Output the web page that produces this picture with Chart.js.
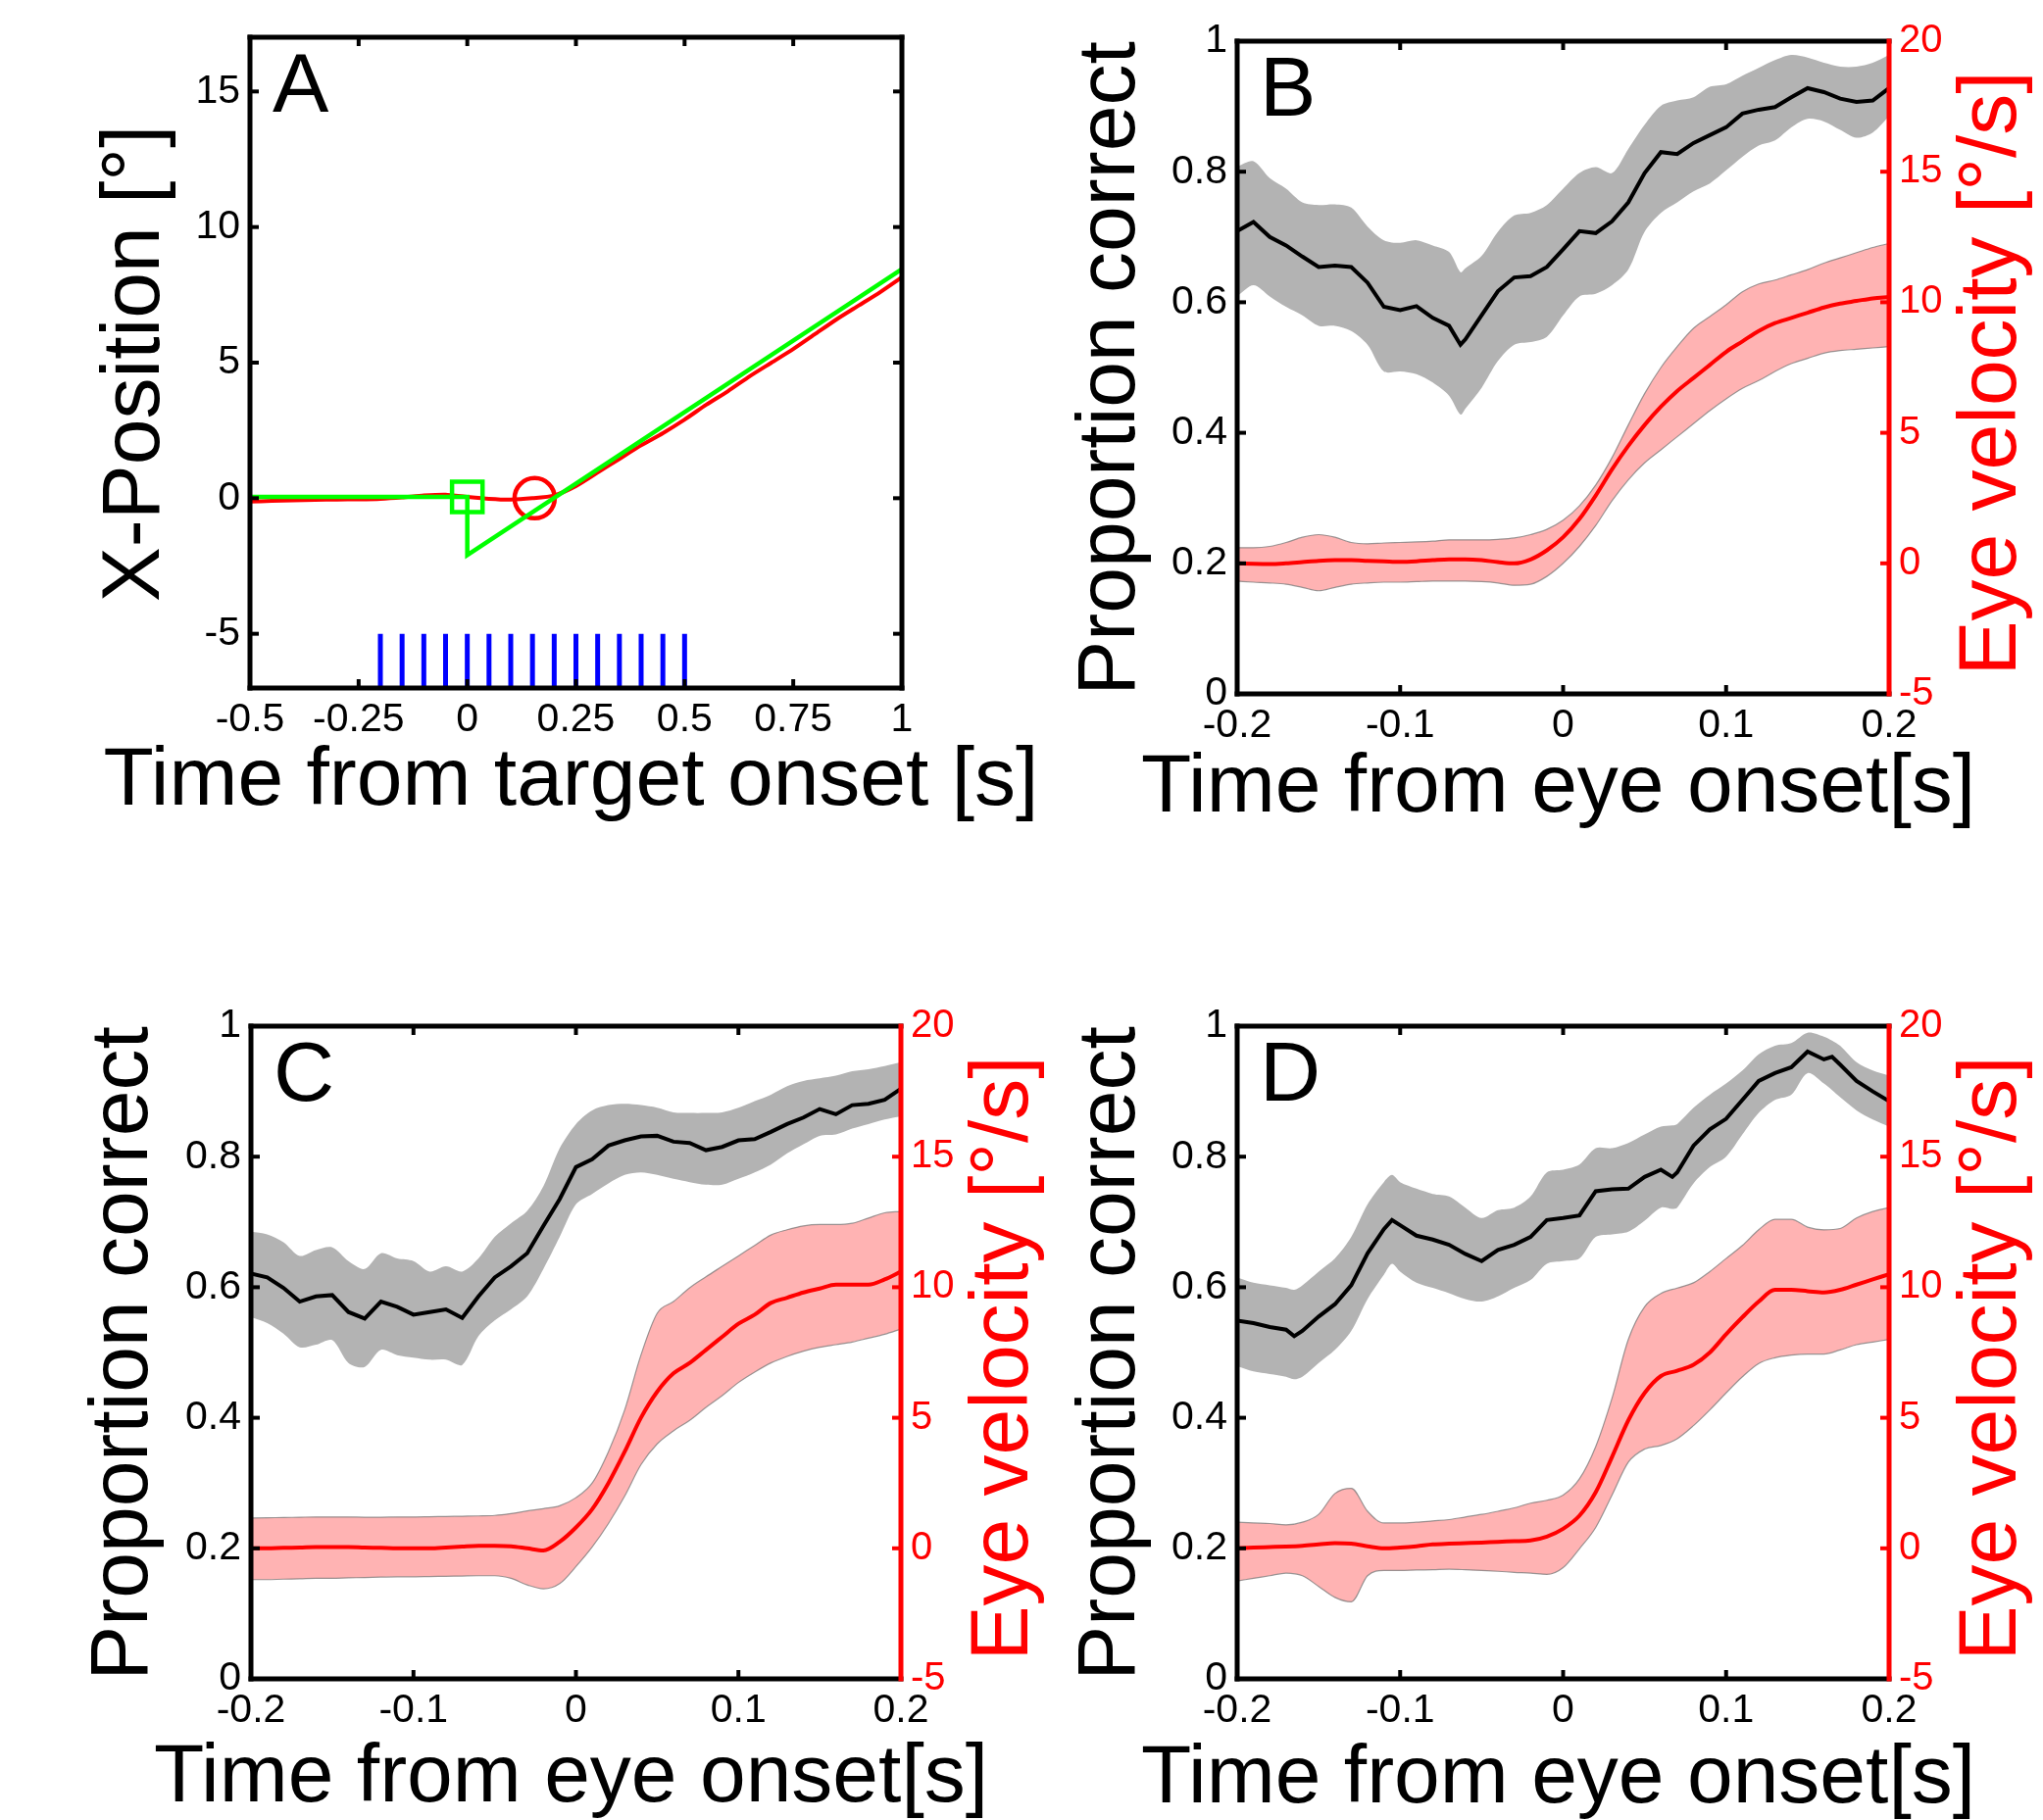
<!DOCTYPE html>
<html>
<head>
<meta charset="utf-8">
<script src="https://cdn.jsdelivr.net/npm/chart.js@4.4.1/dist/chart.umd.min.js"></script>
<style>
html,body{margin:0;padding:0;background:#fff;}
#wrap{position:relative;width:2084px;height:1857px;overflow:hidden;background:#fff;}
#wrap canvas{position:absolute;left:0;top:0;}
</style>
</head>
<body>
<div id="wrap">
<canvas id="cA" width="2084" height="1857"></canvas>
<canvas id="cB" width="2084" height="1857"></canvas>
<canvas id="cC" width="2084" height="1857"></canvas>
<canvas id="cD" width="2084" height="1857"></canvas>
</div>
<script>
// ---------------- DATA ----------------
// Panel A: position traces
const posT      = [-0.5,-0.45,-0.4,-0.35,-0.3,-0.25,-0.2,-0.15,-0.1,-0.05,0,0.05,0.1,0.15,0.2,0.25,0.3,0.35,0.4,0.45,0.5,0.55,0.6,0.65,0.7,0.75,0.8,0.85,0.9,0.95,1.0];
const eyePos    = [-0.12,-0.1,-0.08,-0.06,-0.05,-0.04,-0.02,0.03,0.1,0.13,0.05,-0.02,-0.05,0.0,0.1,0.45,0.95,1.45,1.95,2.4,2.9,3.45,3.95,4.5,5.0,5.5,6.05,6.6,7.1,7.6,8.15];
const targetT   = [-0.5,0,0,1.0];
const targetPos = [0.05,0.05,-2.1,8.45];
const targetOnset = {t:0, v:0.05};
const eyeOnset    = {t:0.155, v:0};
const stimT     = [-0.2,-0.15,-0.1,-0.05,0,0.05,0.1,0.15,0.2,0.25,0.3,0.35,0.4,0.45,0.5];
const stimRange = [-7,-5];
const aXTicks   = [-0.5,-0.25,0,0.25,0.5,0.75,1];
const aXLabels  = ['-0.5','-0.25','0','0.25','0.5','0.75','1'];
const aYTicks   = [-5,0,5,10,15];
const aYLabels  = ['-5','0','5','10','15'];

// Panels B-D: common tick labels
const eXTicks  = [-0.2,-0.1,0,0.1,0.2];
const eXLabels = ['-0.2','-0.1','0','0.1','0.2'];
const pTicks   = [0,0.2,0.4,0.6,0.8,1];
const pLabels  = ['0','0.2','0.4','0.6','0.8','1'];
const vTicks   = [-5,0,5,10,15,20];
const vLabels  = ['-5','0','5','10','15','20'];

// time grid of eye velocity traces
const eyeT = [-0.2,-0.19,-0.18,-0.17,-0.16,-0.15,-0.14,-0.13,-0.12,-0.11,-0.1,-0.09,-0.08,-0.07,-0.06,-0.05,-0.04,-0.03,-0.02,-0.01,0,0.01,0.02,0.03,0.04,0.05,0.06,0.07,0.08,0.09,0.1,0.11,0.12,0.13,0.14,0.15,0.16,0.17,0.18,0.19,0.2];

// Panel B
const bT    = [-0.2,-0.19,-0.18,-0.17,-0.16,-0.15,-0.14,-0.13,-0.12,-0.11,-0.1,-0.09,-0.08,-0.07,-0.063,-0.06,-0.05,-0.04,-0.03,-0.02,-0.01,0,0.01,0.02,0.03,0.04,0.05,0.06,0.07,0.08,0.09,0.1,0.11,0.12,0.13,0.14,0.15,0.16,0.17,0.18,0.19,0.2];
const bPc   = [0.709,0.723,0.70,0.687,0.67,0.654,0.656,0.654,0.63,0.593,0.588,0.594,0.576,0.564,0.535,0.543,0.58,0.617,0.638,0.64,0.654,0.681,0.709,0.706,0.724,0.753,0.798,0.83,0.827,0.844,0.856,0.868,0.889,0.895,0.899,0.914,0.928,0.922,0.912,0.907,0.909,0.928];
const bPcHi = [0.808,0.816,0.79,0.774,0.753,0.749,0.75,0.745,0.716,0.695,0.691,0.695,0.687,0.677,0.646,0.652,0.671,0.708,0.733,0.737,0.749,0.774,0.798,0.807,0.798,0.835,0.872,0.901,0.909,0.914,0.93,0.934,0.947,0.959,0.971,0.979,0.975,0.967,0.961,0.961,0.967,0.979];
const bPcLo = [0.609,0.626,0.609,0.593,0.58,0.564,0.564,0.556,0.535,0.494,0.494,0.49,0.477,0.457,0.428,0.437,0.469,0.51,0.535,0.539,0.547,0.58,0.609,0.613,0.626,0.65,0.708,0.737,0.753,0.77,0.782,0.802,0.823,0.84,0.848,0.868,0.881,0.877,0.864,0.852,0.86,0.885];
const bVel   = [0,-0.02,-0.03,0,0.05,0.1,0.12,0.12,0.1,0.08,0.06,0.08,0.12,0.15,0.15,0.12,0.05,0,0.15,0.5,1.0,1.7,2.6,3.6,4.5,5.3,6.0,6.6,7.1,7.6,8.1,8.5,8.9,9.2,9.4,9.6,9.8,9.95,10.05,10.15,10.2];
const bVelHi = [0.6,0.6,0.65,0.8,1.0,1.1,1.0,0.8,0.75,0.78,0.8,0.82,0.85,0.9,0.9,0.9,0.92,0.97,1.1,1.3,1.65,2.2,3.0,4.05,5.3,6.5,7.5,8.3,9.0,9.45,9.9,10.4,10.7,10.85,11.05,11.25,11.5,11.7,11.9,12.1,12.25];
const bVelLo = [-0.68,-0.72,-0.75,-0.8,-0.92,-1.05,-0.92,-0.8,-0.75,-0.72,-0.72,-0.7,-0.68,-0.68,-0.68,-0.7,-0.75,-0.84,-0.8,-0.5,0.0,0.65,1.45,2.4,3.2,3.85,4.35,4.85,5.35,5.85,6.3,6.7,7.0,7.35,7.65,7.85,8.05,8.15,8.2,8.25,8.3];

// Panel C
const cT    = eyeT;
const cPc   = [0.621,0.615,0.599,0.578,0.586,0.588,0.562,0.552,0.578,0.57,0.558,0.562,0.566,0.553,0.586,0.615,0.632,0.652,0.694,0.735,0.784,0.796,0.817,0.825,0.831,0.832,0.823,0.821,0.81,0.815,0.825,0.827,0.838,0.85,0.86,0.873,0.865,0.879,0.881,0.887,0.904];
const cPcHi = [0.685,0.681,0.669,0.648,0.657,0.661,0.64,0.628,0.652,0.644,0.64,0.624,0.632,0.624,0.644,0.677,0.698,0.717,0.755,0.813,0.85,0.871,0.879,0.881,0.879,0.875,0.868,0.867,0.867,0.868,0.875,0.885,0.895,0.908,0.916,0.92,0.924,0.931,0.934,0.939,0.945];
const cPcLo = [0.554,0.545,0.529,0.508,0.512,0.519,0.484,0.478,0.504,0.496,0.492,0.489,0.489,0.481,0.525,0.549,0.566,0.586,0.628,0.677,0.727,0.743,0.759,0.772,0.776,0.772,0.766,0.761,0.757,0.757,0.766,0.776,0.788,0.805,0.819,0.832,0.834,0.843,0.85,0.857,0.862];
const cVel   = [0,0,0.02,0.03,0.05,0.05,0.05,0.03,0.02,0,0,0,0.03,0.07,0.1,0.1,0.08,0,-0.08,0.25,0.8,1.5,2.5,3.7,5.0,6.0,6.7,7.1,7.6,8.1,8.6,8.95,9.4,9.6,9.8,9.95,10.1,10.1,10.1,10.3,10.6];
const cVelHi = [1.16,1.17,1.18,1.19,1.2,1.2,1.2,1.19,1.19,1.2,1.2,1.21,1.22,1.23,1.24,1.26,1.33,1.43,1.52,1.63,1.94,2.5,3.7,5.3,7.4,9.0,9.45,9.98,10.4,10.8,11.2,11.6,12.0,12.2,12.35,12.4,12.4,12.45,12.65,12.85,12.9];
const cVelLo = [-1.2,-1.2,-1.18,-1.17,-1.15,-1.15,-1.13,-1.12,-1.1,-1.09,-1.09,-1.08,-1.07,-1.06,-1.05,-1.05,-1.15,-1.4,-1.55,-1.35,-0.7,0.05,0.95,2.0,3.2,4.0,4.5,4.9,5.4,5.85,6.35,6.75,7.1,7.35,7.55,7.7,7.8,7.9,8.05,8.2,8.4];

// Panel D
const dT    = [-0.2,-0.19,-0.18,-0.17,-0.165,-0.16,-0.15,-0.14,-0.13,-0.12,-0.11,-0.105,-0.1,-0.09,-0.08,-0.07,-0.06,-0.05,-0.04,-0.03,-0.02,-0.01,0,0.01,0.02,0.03,0.04,0.05,0.06,0.067,0.07,0.08,0.09,0.1,0.11,0.12,0.13,0.14,0.15,0.16,0.165,0.17,0.18,0.19,0.2];
const dPc   = [0.549,0.545,0.539,0.535,0.525,0.533,0.555,0.574,0.603,0.652,0.689,0.703,0.695,0.679,0.673,0.665,0.651,0.64,0.657,0.665,0.677,0.703,0.706,0.71,0.747,0.75,0.751,0.769,0.78,0.769,0.776,0.817,0.842,0.858,0.887,0.916,0.928,0.937,0.961,0.949,0.953,0.941,0.916,0.9,0.885];
const dPcHi = [0.615,0.607,0.603,0.599,0.596,0.603,0.624,0.644,0.677,0.727,0.761,0.772,0.761,0.751,0.743,0.739,0.722,0.706,0.718,0.722,0.739,0.776,0.78,0.788,0.813,0.813,0.821,0.834,0.846,0.848,0.85,0.875,0.895,0.912,0.932,0.957,0.97,0.974,0.99,0.984,0.978,0.97,0.945,0.932,0.924];
const dPcLo = [0.479,0.471,0.467,0.463,0.459,0.463,0.484,0.504,0.533,0.582,0.619,0.636,0.624,0.607,0.599,0.591,0.582,0.578,0.586,0.599,0.611,0.636,0.64,0.644,0.677,0.681,0.685,0.702,0.722,0.72,0.722,0.759,0.784,0.8,0.834,0.867,0.887,0.895,0.928,0.912,0.902,0.891,0.871,0.857,0.846];
const dVel   = [0,0.03,0.05,0.07,0.1,0.15,0.2,0.18,0.08,0,0.03,0.08,0.15,0.18,0.2,0.22,0.25,0.27,0.3,0.45,0.75,1.25,2.15,3.5,4.9,5.95,6.6,6.8,7.03,7.5,8.2,8.85,9.45,9.9,9.9,9.85,9.8,9.9,10.1,10.3,10.5];
const dVelHi = [1.0,0.97,0.95,0.9,1.0,1.3,2.1,2.3,1.42,0.97,0.97,1.0,1.05,1.1,1.2,1.3,1.42,1.55,1.73,1.84,2.04,2.66,3.9,5.75,8.0,9.25,9.76,9.97,10.17,10.6,11.1,11.6,12.2,12.6,12.6,12.3,12.2,12.25,12.65,12.9,13.05];
const dVelLo = [-1.25,-1.15,-1.05,-0.95,-1.05,-1.46,-1.88,-2.05,-1.05,-0.85,-0.85,-0.83,-0.82,-0.8,-0.82,-0.85,-0.88,-0.92,-0.95,-1.0,-0.74,-0.02,0.8,2.04,3.3,3.8,3.94,4.2,4.7,5.3,5.95,6.57,7.08,7.3,7.4,7.44,7.44,7.6,7.8,7.9,8.0];

// ---------------- STYLE / HELPERS ----------------
const FONT = "'Liberation Sans', Arial, Helvetica, sans-serif";
const RED = '#ff0000', GREEN = '#00ff00', BLUE = '#0000ff', BLACK = '#000000';
const GRAYBAND = '#b3b3b3', PINKBAND = '#ffb3b3', PINKEDGE = 'rgba(120,120,120,0.75)';
Chart.defaults.font.family = FONT;

function pts(ts, vs){ return ts.map((t,i)=>({x:t, y:vs[i]})); }
function fixedTicks(values){ return s => { s.ticks = values.map(v => ({value:v})); }; }
function stimSegments(ts, r){
  const out = [];
  ts.forEach(t => { out.push({x:t,y:r[0]}); out.push({x:t,y:r[1]}); out.push({x:t,y:null}); });
  return out;
}

// frame, inward ticks, panel letter and axis titles (drawn without width compression)
const deco = {
  id: 'deco',
  afterDatasetsDraw(chart, args, o){
    const {ctx, chartArea:a, scales} = chart;
    const TL = 9;
    ctx.save();
    const seg = (x1,y1,x2,y2,c,w)=>{ctx.strokeStyle=c;ctx.lineWidth=w;ctx.beginPath();ctx.moveTo(x1,y1);ctx.lineTo(x2,y2);ctx.stroke();};
    ctx.lineCap = 'butt';
    scales.x.ticks.forEach(t => { const p = scales.x.getPixelForValue(t.value);
      seg(p,a.bottom,p,a.bottom-TL,BLACK,4); seg(p,a.top,p,a.top+TL,BLACK,4); });
    scales.y.ticks.forEach(t => { const p = scales.y.getPixelForValue(t.value);
      seg(a.left,p,a.left+TL,p,BLACK,4); if(!scales.y2) seg(a.right,p,a.right-TL,p,BLACK,4); });
    if (scales.y2) scales.y2.ticks.forEach(t => { const p = scales.y2.getPixelForValue(t.value);
      seg(a.right,p,a.right-TL,p,RED,4); });
    ctx.lineCap = 'square';
    seg(a.left,a.top,a.right,a.top,BLACK,5);
    seg(a.left,a.top,a.left,a.bottom,BLACK,5);
    seg(a.left,a.bottom,a.right,a.bottom,BLACK,5);
    seg(a.right,a.top,a.right,a.bottom,scales.y2?RED:BLACK,5);
    ctx.restore();
  },
  afterDraw(chart, args, o){
    const {ctx, chartArea:a} = chart;
    const cy = (a.top + a.bottom)/2;
    ctx.save();
    ctx.fillStyle = BLACK;
    ctx.font = '86px ' + FONT;
    ctx.textAlign = 'left'; ctx.textBaseline = 'alphabetic';
    ctx.fillText(o.letter, a.left + 23, a.top + 76);
    ctx.font = '84px ' + FONT;
    ctx.textAlign = 'center'; ctx.textBaseline = 'middle';
    // x title
    ctx.fillText(chart.options.scales.x.title.text, (a.left + a.right)/2 - 5, o.xTitleY);
    // left y title
    ctx.save();
    ctx.translate(o.yTitleX, cy + 1);
    ctx.rotate(-Math.PI/2);
    ctx.fillText(chart.options.scales.y.title.text, 0, 0);
    ctx.restore();
    // right y title
    if (chart.options.scales.y2){
      ctx.save();
      ctx.translate(a.right + 106, cy + 6);
      ctx.rotate(-Math.PI/2);
      ctx.fillStyle = RED;
      ctx.fillText(chart.options.scales.y2.title.text, 0, 0);
      ctx.restore();
    }
    ctx.restore();
  }
};

function xScale(min, max, ticks, labels, title, hX){
  return {
    type:'linear', position:'bottom', min, max,
    afterBuildTicks: fixedTicks(ticks),
    afterFit: s => { s.height = hX; },
    grid:{display:false, drawTicks:false}, border:{display:false},
    ticks:{autoSkip:false, maxRotation:0, minRotation:0, padding:8, color:BLACK, font:{size:41},
           callback:(v,i)=>labels[i]},
    title:{display:false, text:title, color:BLACK, font:{size:84}}
  };
}
function yScale(min, max, ticks, labels, title){
  return {
    type:'linear', position:'left', min, max,
    afterBuildTicks: fixedTicks(ticks),
    afterFit: s => { s.width = 250; },
    grid:{display:false, drawTicks:false}, border:{display:false},
    ticks:{autoSkip:false, padding:10, color:BLACK, font:{size:41}, callback:(v,i)=>labels[i]},
    title:{display:false, text:title, color:BLACK, font:{size:84}}
  };
}
function y2Scale(title){
  return {
    type:'linear', position:'right', min:-5, max:20,
    afterBuildTicks: fixedTicks(vTicks),
    afterFit: s => { s.width = 150; },
    grid:{display:false, drawTicks:false}, border:{display:false},
    ticks:{autoSkip:false, padding:10, color:RED, font:{size:40}, callback:(v,i)=>vLabels[i]},
    title:{display:false, text:title, color:RED, font:{size:84}}
  };
}
const baseOpts = {responsive:false, animation:false, devicePixelRatio:1, events:[],
  plugins:{legend:{display:false}, tooltip:{enabled:false}}};

// ---------------- PANEL A ----------------
new Chart(document.getElementById('cA'), {
  type:'line',
  data:{datasets:[
    {label:'Target onset', data:[{x:targetOnset.t, y:targetOnset.v}], showLine:false, pointStyle:'rect',
     pointRadius:22, pointBorderWidth:4.5, pointBorderColor:GREEN, pointBackgroundColor:'rgba(0,0,0,0)', order:1},
    {label:'Target position', data:pts(targetT, targetPos), borderColor:GREEN, borderWidth:4.5, pointRadius:0, tension:0, order:2},
    {label:'Eye onset', data:[{x:eyeOnset.t, y:eyeOnset.v}], showLine:false, pointStyle:'circle',
     pointRadius:20.5, pointBorderWidth:4.5, pointBorderColor:RED, pointBackgroundColor:'rgba(0,0,0,0)', order:3},
    {label:'Eye position', data:pts(posT, eyePos), borderColor:RED, borderWidth:4, pointRadius:0, tension:0.2, order:4},
    {label:'Stimulus', data:stimSegments(stimT, stimRange), borderColor:BLUE, borderWidth:5, pointRadius:0, spanGaps:false, order:5}
  ]},
  options:Object.assign({}, baseOpts, {
    layout:{padding:{left:5, right:1164, top:38, bottom:1005}},
    scales:{
      x: xScale(-0.5, 1, aXTicks, aXLabels, 'Time from target onset [s]', 150),
      y: yScale(-7, 17, aYTicks, aYLabels, 'X-Position [°]')
    },
    plugins:Object.assign({}, baseOpts.plugins, {deco:{letter:'A', xTitleY:798, yTitleX:139}})
  }),
  plugins:[deco]
});

// ---------------- PANELS B-D ----------------
function eyePanel(id, letter, pad, hX, xTitleY, yTitleX, pc, vel){
  return new Chart(document.getElementById(id), {
    type:'line',
    data:{datasets:[
      {label:'Eye velocity', data:pts(eyeT, vel.m), yAxisID:'y2', borderColor:RED, borderWidth:4, pointRadius:0, cubicInterpolationMode:'monotone', order:1},
      {label:'Eye velocity lower', data:pts(eyeT, vel.lo), yAxisID:'y2', borderColor:PINKEDGE, borderWidth:1.2, pointRadius:0, cubicInterpolationMode:'monotone', fill:false, order:2},
      {label:'Eye velocity upper', data:pts(eyeT, vel.hi), yAxisID:'y2', borderColor:PINKEDGE, borderWidth:1.2, pointRadius:0, cubicInterpolationMode:'monotone', fill:{target:1}, backgroundColor:PINKBAND, order:3},
      {label:'Proportion correct', data:pts(pc.t, pc.m), yAxisID:'y', borderColor:BLACK, borderWidth:4, pointRadius:0, tension:0, order:4},
      {label:'PC upper', data:pts(pc.t, pc.hi), yAxisID:'y', borderWidth:0, borderColor:GRAYBAND, pointRadius:0, tension:0.3, fill:{target:5}, backgroundColor:GRAYBAND, order:5},
      {label:'PC lower', data:pts(pc.t, pc.lo), yAxisID:'y', borderWidth:0, borderColor:GRAYBAND, pointRadius:0, tension:0.3, fill:false, order:6}
    ]},
    options:Object.assign({}, baseOpts, {
      layout:{padding:pad},
      scales:{
        x: xScale(-0.2, 0.2, eXTicks, eXLabels, 'Time from eye onset[s]', hX),
        y: yScale(0, 1, pTicks, pLabels, 'Proportion correct'),
        y2: y2Scale('Eye velocity [°/s]')
      },
      plugins:Object.assign({}, baseOpts.plugins, {deco:{letter:letter, xTitleY:xTitleY, yTitleX:yTitleX}})
    }),
    plugins:[deco]
  });
}

eyePanel('cB','B',{left:1012,right:7,top:42,bottom:999},150,805,1134,
  {t:bT,m:bPc,hi:bPcHi,lo:bPcLo},{m:bVel,hi:bVelHi,lo:bVelLo});
eyePanel('cC','C',{left:6,right:1015,top:1047,bottom:0},144,1815,126.5,
  {t:cT,m:cPc,hi:cPcHi,lo:cPcLo},{m:cVel,hi:cVelHi,lo:cVelLo});
eyePanel('cD','D',{left:1012,right:7,top:1047,bottom:0},144,1816,1134,
  {t:dT,m:dPc,hi:dPcHi,lo:dPcLo},{m:dVel,hi:dVelHi,lo:dVelLo});
</script>
</body>
</html>
